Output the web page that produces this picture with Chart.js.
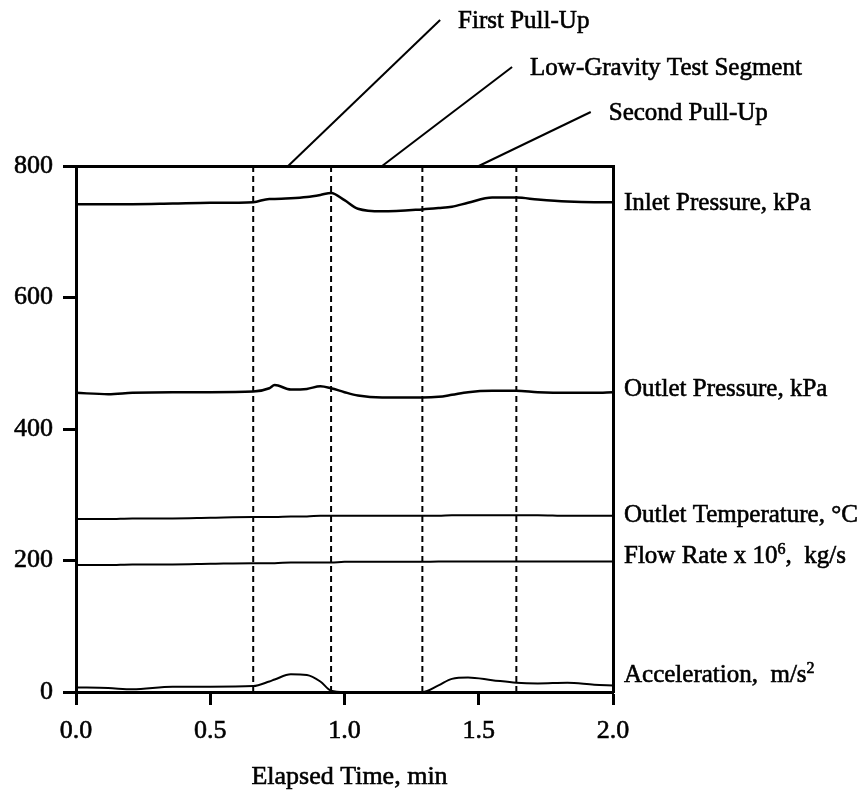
<!DOCTYPE html>
<html lang="en">

<head>
  <meta charset="UTF-8">
  <meta name="viewport" content="width=device-width, initial-scale=1.0">
  <script src="https://cdn.jsdelivr.net/npm/chart.js"></script>
  <title>Elapsed Time</title>
  <style>
    body { margin: 0; background: #fff; }
    #grafico { display: block; }
  </style>
</head>

<body>
  <canvas id="grafico" width="860" height="796"></canvas>
</body>

</html>
<script>
  // Tempos (min) em que as curvas foram lidas
  const tempos = [0, 0.12, 0.21, 0.36, 0.5, 0.66, 0.72, 0.74, 0.8, 0.86, 0.91, 0.95, 1.0, 1.05, 1.14, 1.29, 1.35, 1.4, 1.46, 1.55, 1.64, 1.72, 1.83, 1.93, 2.0];

  const pressaoEntrada = [742, 742, 742, 743, 744, 745, 750, 750, 751, 753, 756, 759, 748, 735, 731, 734, 736, 738, 744, 752, 752, 749, 746, 745, 745];
  const pressaoSaida = [455, 453, 455, 456, 456, 457, 462, 467, 460, 461, 465, 462, 456, 451, 448, 448, 449, 452, 456, 458, 458, 456, 455, 455, 456];
  const temperaturaSaida = [263, 263, 264, 264, 265, 266, 266, 266, 267, 267, 268, 268, 268, 268, 268, 268, 268, 269, 269, 269, 269, 269, 268, 268, 268];
  const vazao = [193, 193, 194, 194, 195, 196, 196, 196, 197, 197, 197, 197, 198, 198, 198, 198, 198.5, 198.5, 198.5, 198.5, 198.5, 198.5, 198.5, 198.5, 198.5];
  const aceleracao = [7, 6, 4, 8, 8, 9, 16, 19, 27, 26, 16, 2, 0, 0, 0, 0, 10, 20, 22, 18, 14, 13, 14, 11, 10];

  // Nomes das curvas: partes ímpares vão como expoente
  const nomeEntrada = ['Inlet Pressure, kPa'];
  const nomeSaida = ['Outlet Pressure, kPa'];
  const nomeTemperatura = ['Outlet Temperature, °C'];
  const nomeVazao = ['Flow Rate x 10', '6', ',  kg/s'];
  const nomeAceleracao = ['Acceleration,  m/s', '2'];

  // Linhas tracejadas que separam as fases do voo
  const marcosFase = [0.66, 0.95, 1.29, 1.64];

  // Chamadas acima do gráfico
  const chamadas = ['First Pull-Up', 'Low-Gravity Test Segment', 'Second Pull-Up'];
  const chamadasTempo = [0.79, 1.14, 1.5];

  const ticksX = [0, 0.5, 1.0, 1.5, 2.0];
  const ticksY = [0, 200, 400, 600, 800];

  const fonte = '"Liberation Serif", "Times New Roman", serif';

  const series = [
    { nome: nomeEntrada, valores: pressaoEntrada, ajuste: 1, largura: 2.5 },
    { nome: nomeSaida, valores: pressaoSaida, ajuste: -3, largura: 2.5 },
    { nome: nomeTemperatura, valores: temperaturaSaida, ajuste: 0, largura: 2 },
    { nome: nomeVazao, valores: vazao, ajuste: -5, largura: 2 },
    { nome: nomeAceleracao, valores: aceleracao, ajuste: -10, largura: 2 }
  ];

  const datasets = series.map(s => ({
    data: tempos.map((t, i) => ({ x: t, y: s.valores[i] })),
    borderColor: '#000',
    borderWidth: s.largura,
    pointRadius: 0,
    cubicInterpolationMode: 'monotone'
  }));

  marcosFase.forEach(t => {
    datasets.push({
      data: [{ x: t, y: 0 }, { x: t, y: 800 }],
      borderColor: '#000',
      borderWidth: 2,
      borderDash: [6, 4],
      pointRadius: 0
    });
  });

  // Texto com contorno leve, pra ficar mais encorpado
  function escrever(ctx, texto, x, y) {
    ctx.fillText(texto, x, y);
    ctx.strokeText(texto, x, y);
  }

  // Nomes das curvas à direita, chamadas do topo e título do eixo X
  const rotulos = {
    id: 'rotulos',
    afterDraw(chart) {
      const { ctx, chartArea, scales } = chart;
      ctx.save();
      ctx.fillStyle = '#000';
      ctx.strokeStyle = '#000';
      ctx.lineWidth = 0.6;
      ctx.textBaseline = 'middle';
      ctx.textAlign = 'left';

      series.forEach(s => {
        const ultimo = s.valores[s.valores.length - 1];
        const y = scales.y.getPixelForValue(ultimo) + s.ajuste;
        let x = chartArea.right + 11;
        s.nome.forEach((parte, j) => {
          if (j % 2 === 1) {
            ctx.font = '16px ' + fonte;
            escrever(ctx, parte, x, y - 7);
          } else {
            ctx.font = '25px ' + fonte;
            escrever(ctx, parte, x, y);
          }
          x += ctx.measureText(parte).width;
        });
      });

      ctx.font = '25px ' + fonte;
      const desloc = [[152, -146], [130, -99], [112, -54]];
      chamadas.forEach((texto, i) => {
        const x0 = scales.x.getPixelForValue(chamadasTempo[i]);
        const y0 = chartArea.top;
        const [dx, dy] = desloc[i];
        ctx.lineWidth = 2;
        ctx.beginPath();
        ctx.moveTo(x0, y0);
        ctx.lineTo(x0 + dx, y0 + dy);
        ctx.stroke();
        ctx.lineWidth = 0.6;
        escrever(ctx, texto, x0 + dx + 18, y0 + dy + 1);
      });

      ctx.font = '26px ' + fonte;
      ctx.textAlign = 'center';
      escrever(ctx, 'Elapsed Time, min', (chartArea.left + chartArea.right) / 2 + 5, 777);
      ctx.restore();
    }
  };

  const eixo = {
    border: { display: true, width: 3, color: '#000' },
    grid: { drawOnChartArea: false, drawTicks: true, tickLength: 13, tickWidth: 3, tickColor: '#000', color: '#000' }
  };

  new Chart(document.getElementById('grafico'), {
    type: 'line',
    data: { datasets: datasets },
    plugins: [rotulos],
    options: {
      responsive: false,
      animation: false,
      layout: { padding: { top: 166, right: 247, bottom: 0, left: 0 } },
      plugins: { legend: { display: false }, tooltip: { enabled: false } },
      scales: {
        x: {
          type: 'linear',
          min: 0,
          max: 2,
          ...eixo,
          afterBuildTicks: s => { s.ticks = ticksX.map(v => ({ value: v })); },
          afterFit: s => { s.height = 104; },
          ticks: {
            color: '#000',
            padding: 11,
            maxRotation: 0,
            textStrokeColor: '#000',
            textStrokeWidth: 0.6,
            font: { family: fonte, size: 26 },
            callback: v => Number(v).toFixed(1)
          }
        },
        y: {
          type: 'linear',
          min: 0,
          max: 800,
          ...eixo,
          afterBuildTicks: s => { s.ticks = ticksY.map(v => ({ value: v })); },
          afterFit: s => { s.width = 76; },
          ticks: {
            color: '#000',
            padding: 10,
            textStrokeColor: '#000',
            textStrokeWidth: 0.6,
            font: { family: fonte, size: 26 }
          }
        },
        x2: {
          type: 'linear',
          position: 'top',
          min: 0,
          max: 2,
          border: { display: true, width: 3, color: '#000' },
          grid: { display: false, drawTicks: false },
          ticks: { display: false },
          afterFit: s => { s.height = 0; }
        },
        y2: {
          type: 'linear',
          position: 'right',
          min: 0,
          max: 800,
          border: { display: true, width: 3, color: '#000' },
          grid: { display: false, drawTicks: false },
          ticks: { display: false },
          afterFit: s => { s.width = 0; }
        }
      }
    }
  });
</script>
